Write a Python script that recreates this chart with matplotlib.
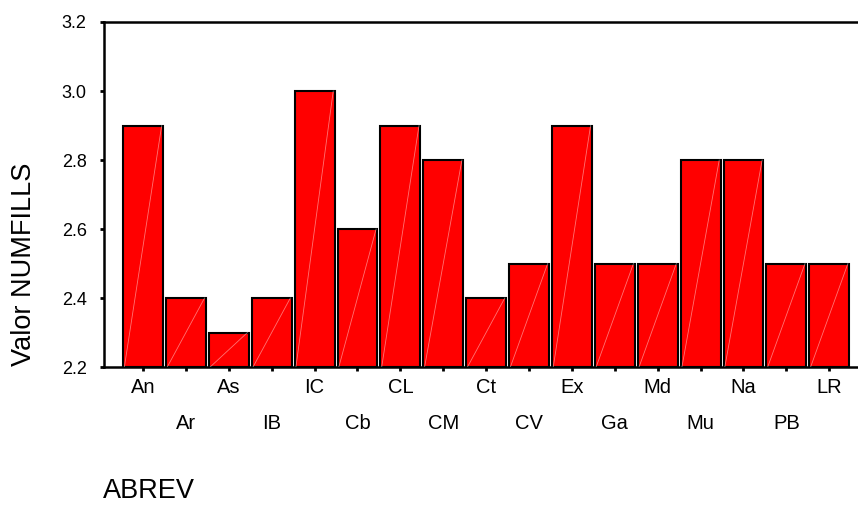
import matplotlib.pyplot as plt
import numpy as np

plt.rcParams['font.family'] = ['Liberation Sans', 'DejaVu Sans']

# datos
abrev = ['An', 'Ar', 'As', 'IB', 'IC', 'Cb', 'CL', 'CM', 'Ct', 'CV',
         'Ex', 'Ga', 'Md', 'Mu', 'Na', 'PB', 'LR']
numfills = [2.9, 2.4, 2.3, 2.4, 3.0, 2.6, 2.9, 2.8, 2.4, 2.5,
            2.9, 2.5, 2.5, 2.8, 2.8, 2.5, 2.5]
yticks = [2.2, 2.4, 2.6, 2.8, 3.0, 3.2]
base = 2.2

fig = plt.figure(figsize=(8.58, 5.05), dpi=100)
ax = fig.add_axes([104 / 858, 1 - 367 / 505, (858 - 104) / 858, (367 - 22) / 505])

x = np.arange(len(abrev))
w = 0.93
ax.bar(x, np.array(numfills) - base, bottom=base, width=w,
       color='#ff0000', edgecolor='black', linewidth=1.5, zorder=2)

# linea diagonal tenue dentro de cada barra
for xi, v in zip(x, numfills):
    ax.plot([xi - w / 2 + 0.03, xi + w / 2 - 0.03], [base, v],
            color='white', alpha=0.45, linewidth=0.6, zorder=3)

ax.set_xlim(-0.91, 16.67)
ax.set_ylim(2.2, 3.2)
ax.set_yticks(yticks)
ax.set_yticklabels(['%.1f' % t for t in yticks])

# etiquetas alternadas en dos filas
ax.set_xticks(x[::2], [abrev[i] for i in x[::2]])
ax.set_xticks(x[1::2], [abrev[i] for i in x[1::2]], minor=True)

ax.tick_params(axis='both', which='both', length=3, width=2, direction='out')
ax.tick_params(axis='x', which='both', labelsize=14.5)
ax.tick_params(axis='x', which='major', pad=5)
ax.tick_params(axis='x', which='minor', pad=31)
ax.tick_params(axis='y', labelsize=13, pad=9.5)

ax.spines['right'].set_visible(False)
for s in ['left', 'top', 'bottom']:
    ax.spines[s].set_linewidth(1.8)

fig.text(24 / 858, 1 - 264 / 505, 'Valor NUMFILLS', rotation=90,
         fontsize=19.5, ha='center', va='center')
fig.text(103 / 858, 1 - 491 / 505, 'ABREV', fontsize=19.5, ha='left', va='center')

fig.savefig('out.png', dpi=100)
